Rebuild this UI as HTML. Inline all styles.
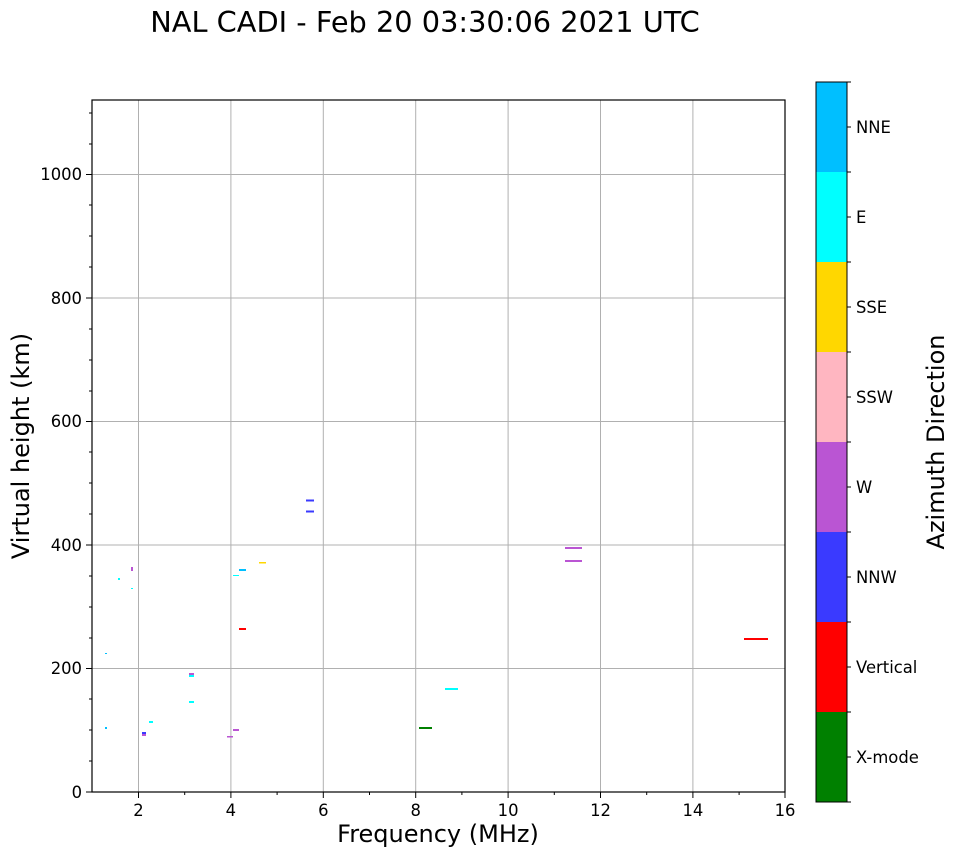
<!DOCTYPE html>
<html><head><meta charset="utf-8"><style>body{margin:0;background:#fff}svg{display:block}text{font-family:"DejaVu Sans","Liberation Sans",sans-serif;fill:#000}</style></head>
<body>
<svg width="958" height="857" xmlns="http://www.w3.org/2000/svg">
<text x="425" y="32" font-size="28.8" text-anchor="middle">NAL CADI - Feb 20 03:30:06 2021 UTC</text>
<g stroke="#b0b0b0" stroke-width="1">
<line x1="138.5" y1="100" x2="138.5" y2="792"/><line x1="230.9" y1="100" x2="230.9" y2="792"/><line x1="323.3" y1="100" x2="323.3" y2="792"/><line x1="415.7" y1="100" x2="415.7" y2="792"/><line x1="508.1" y1="100" x2="508.1" y2="792"/><line x1="600.5" y1="100" x2="600.5" y2="792"/><line x1="692.9" y1="100" x2="692.9" y2="792"/>
<line x1="92" y1="668.5" x2="785" y2="668.5"/><line x1="92" y1="545" x2="785" y2="545"/><line x1="92" y1="421.5" x2="785" y2="421.5"/><line x1="92" y1="298" x2="785" y2="298"/><line x1="92" y1="174.5" x2="785" y2="174.5"/>
</g>
<g>
<rect x="131" y="567" width="2" height="4" fill="#ba55d3"/>
<rect x="118" y="578" width="2" height="2" fill="#00ffff"/>
<rect x="131" y="588" width="2" height="1" fill="#00ffff"/>
<rect x="105" y="653" width="2" height="1" fill="#00bfff"/>
<rect x="259" y="562" width="7" height="1.5" fill="#ffd700"/>
<rect x="239" y="569" width="7" height="2" fill="#00bfff"/>
<rect x="233" y="575" width="6" height="1" fill="#00ffff"/>
<rect x="239" y="628" width="7" height="2" fill="#ff0000"/>
<rect x="189" y="673" width="5" height="2" fill="#ba55d3"/>
<rect x="189" y="675" width="5" height="2" fill="#00ffff"/>
<rect x="189" y="701" width="5" height="2" fill="#00ffff"/>
<rect x="149" y="721" width="4" height="2" fill="#00ffff"/>
<rect x="105" y="727" width="2" height="2" fill="#00bfff"/>
<rect x="142" y="732" width="4" height="2" fill="#3a3aff"/>
<rect x="142" y="734" width="4" height="2" fill="#ba55d3"/>
<rect x="233" y="729" width="6" height="2" fill="#ba55d3"/>
<rect x="227" y="736" width="6" height="1.5" fill="#ba55d3"/>
<rect x="306" y="499.5" width="8" height="2" fill="#3a3aff"/>
<rect x="306" y="510.5" width="8" height="2" fill="#3a3aff"/>
<rect x="565" y="547" width="17" height="2" fill="#ba55d3"/>
<rect x="565" y="560" width="17" height="2" fill="#ba55d3"/>
<rect x="744" y="638" width="24" height="2" fill="#ff0000"/>
<rect x="445" y="688" width="13" height="2" fill="#00ffff"/>
<rect x="419" y="727" width="13" height="2" fill="#008000"/>
</g>
<rect x="92" y="100" width="693" height="692" fill="none" stroke="#000" stroke-width="1.2"/>
<g stroke="#000" stroke-width="1">
<line x1="138.5" y1="792" x2="138.5" y2="798"/><line x1="230.9" y1="792" x2="230.9" y2="798"/><line x1="323.3" y1="792" x2="323.3" y2="798"/><line x1="415.7" y1="792" x2="415.7" y2="798"/><line x1="508.1" y1="792" x2="508.1" y2="798"/><line x1="600.5" y1="792" x2="600.5" y2="798"/><line x1="692.9" y1="792" x2="692.9" y2="798"/><line x1="785" y1="792" x2="785" y2="798"/>
<line x1="184.7" y1="792" x2="184.7" y2="795"/><line x1="277.1" y1="792" x2="277.1" y2="795"/><line x1="369.5" y1="792" x2="369.5" y2="795"/><line x1="461.9" y1="792" x2="461.9" y2="795"/><line x1="554.3" y1="792" x2="554.3" y2="795"/><line x1="646.7" y1="792" x2="646.7" y2="795"/><line x1="739.1" y1="792" x2="739.1" y2="795"/>
<line x1="86" y1="792" x2="92" y2="792"/><line x1="86" y1="668.5" x2="92" y2="668.5"/><line x1="86" y1="545" x2="92" y2="545"/><line x1="86" y1="421.5" x2="92" y2="421.5"/><line x1="86" y1="298" x2="92" y2="298"/><line x1="86" y1="174.5" x2="92" y2="174.5"/>
<line x1="89" y1="761" x2="92" y2="761"/><line x1="89" y1="730" x2="92" y2="730"/><line x1="89" y1="699" x2="92" y2="699"/><line x1="89" y1="638" x2="92" y2="638"/><line x1="89" y1="607" x2="92" y2="607"/><line x1="89" y1="576" x2="92" y2="576"/><line x1="89" y1="514" x2="92" y2="514"/><line x1="89" y1="483" x2="92" y2="483"/><line x1="89" y1="452" x2="92" y2="452"/><line x1="89" y1="391" x2="92" y2="391"/><line x1="89" y1="360" x2="92" y2="360"/><line x1="89" y1="329" x2="92" y2="329"/><line x1="89" y1="267" x2="92" y2="267"/><line x1="89" y1="236" x2="92" y2="236"/><line x1="89" y1="205" x2="92" y2="205"/><line x1="89" y1="144" x2="92" y2="144"/><line x1="89" y1="113" x2="92" y2="113"/>
</g>
<g font-size="16.4" text-anchor="middle">
<text x="138.5" y="816">2</text><text x="230.9" y="816">4</text><text x="323.3" y="816">6</text><text x="415.7" y="816">8</text><text x="508.1" y="816">10</text><text x="600.5" y="816">12</text><text x="692.9" y="816">14</text><text x="785" y="816">16</text>
</g>
<g font-size="16.4" text-anchor="end">
<text x="82" y="798">0</text><text x="82" y="674">200</text><text x="82" y="551">400</text><text x="82" y="427">600</text><text x="82" y="304">800</text><text x="82" y="180">1000</text>
</g>
<text x="438" y="842" font-size="24" text-anchor="middle">Frequency (MHz)</text>
<text transform="translate(29,446) rotate(-90)" font-size="24" text-anchor="middle">Virtual height (km)</text>
<rect x="816" y="82" width="31" height="90" fill="#00bfff"/>
<rect x="816" y="172" width="31" height="90" fill="#00ffff"/>
<rect x="816" y="262" width="31" height="90" fill="#ffd700"/>
<rect x="816" y="352" width="31" height="90" fill="#ffb6c1"/>
<rect x="816" y="442" width="31" height="90" fill="#ba55d3"/>
<rect x="816" y="532" width="31" height="90" fill="#3a3aff"/>
<rect x="816" y="622" width="31" height="90" fill="#ff0000"/>
<rect x="816" y="712" width="31" height="90" fill="#008000"/>
<rect x="816" y="82" width="31" height="720" fill="none" stroke="#000" stroke-width="1"/>
<g stroke="#000"><line x1="847" y1="127" x2="851" y2="127"/><line x1="847" y1="217" x2="851" y2="217"/><line x1="847" y1="307" x2="851" y2="307"/><line x1="847" y1="397" x2="851" y2="397"/><line x1="847" y1="487" x2="851" y2="487"/><line x1="847" y1="577" x2="851" y2="577"/><line x1="847" y1="667" x2="851" y2="667"/><line x1="847" y1="757" x2="851" y2="757"/>
<line x1="847" y1="82" x2="851" y2="82"/><line x1="847" y1="172" x2="851" y2="172"/><line x1="847" y1="262" x2="851" y2="262"/><line x1="847" y1="352" x2="851" y2="352"/><line x1="847" y1="442" x2="851" y2="442"/><line x1="847" y1="532" x2="851" y2="532"/><line x1="847" y1="622" x2="851" y2="622"/><line x1="847" y1="712" x2="851" y2="712"/><line x1="847" y1="802" x2="851" y2="802"/></g>
<g font-size="16.4">
<text x="856" y="133">NNE</text><text x="856" y="223">E</text><text x="856" y="313">SSE</text><text x="856" y="403">SSW</text><text x="856" y="493">W</text><text x="856" y="583">NNW</text><text x="856" y="673">Vertical</text><text x="856" y="763">X-mode</text>
</g>
<text transform="translate(944,442) rotate(-90)" font-size="24" text-anchor="middle">Azimuth Direction</text>
</svg>
</body></html>
